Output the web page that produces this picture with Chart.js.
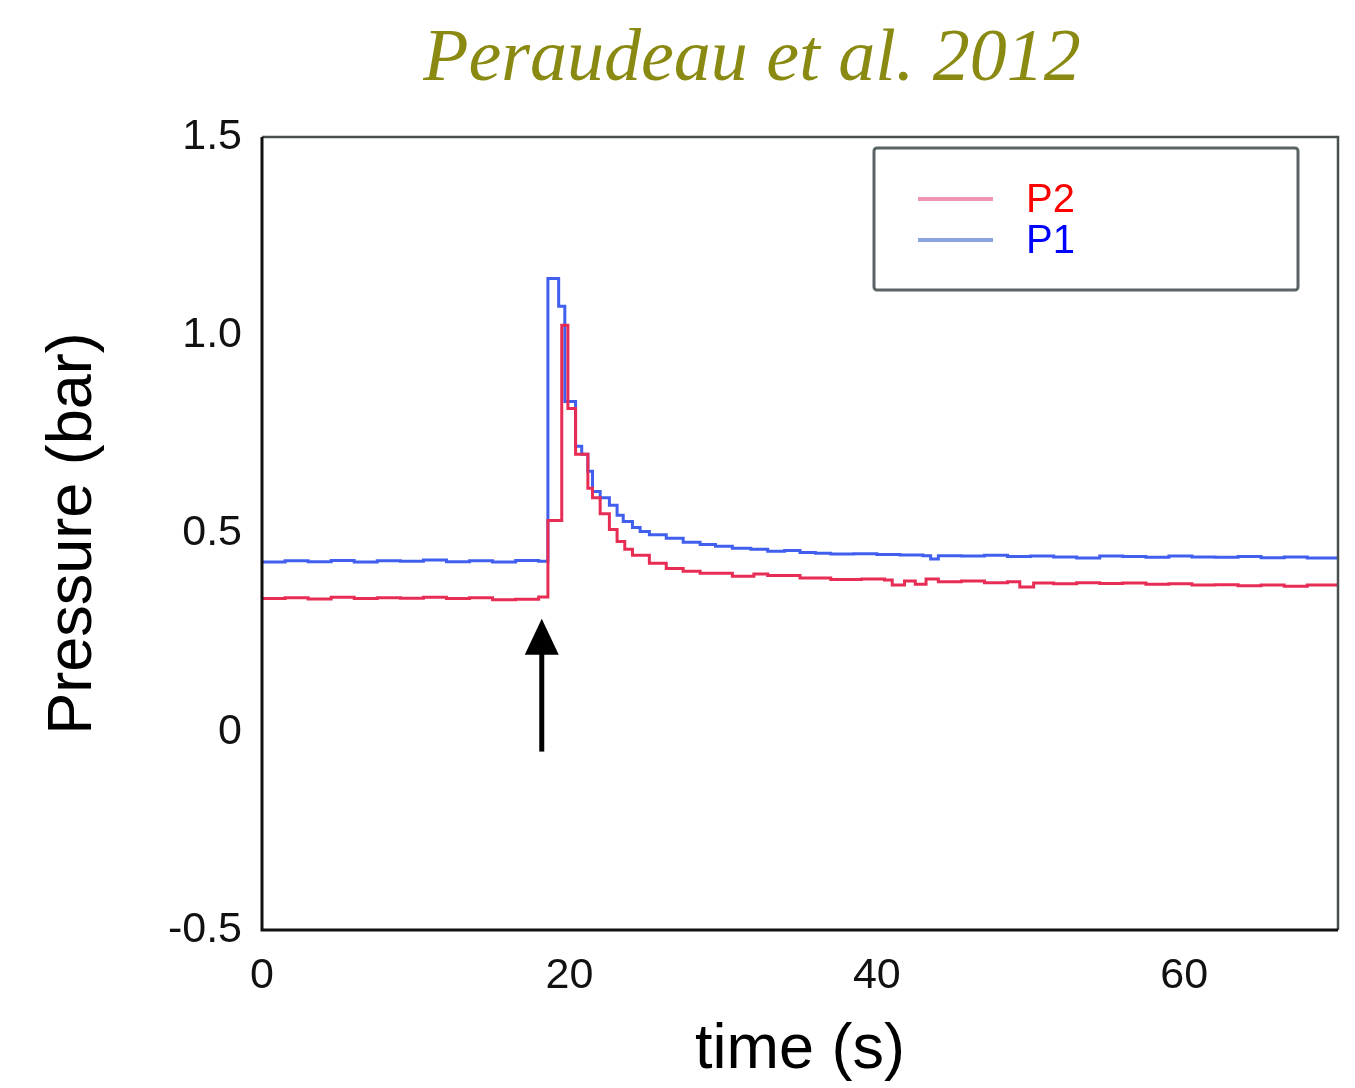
<!DOCTYPE html>
<html lang="en">
<head>
  <meta charset="UTF-8" />
  <title>Peraudeau et al. 2012</title>
  <script src="https://cdn.jsdelivr.net/npm/chart.js"></script>
  <style>
    body { margin: 0; background: #fff; }
    .wrap { width: 1355px; height: 1088px; position: relative; }
  </style>
</head>
<body>
  <div class="wrap"><canvas id="pressureChart"></canvas></div>

  <script>
    // (time in s, pressure in bar)
    const p1Time = [0, 1.5, 3, 4.5, 6, 7.5, 9, 10.5, 12, 13.5, 15, 16.5, 18, 18.6, 19.3, 19.7, 20.4, 20.8, 21.2, 21.5, 22, 22.6, 23.1, 23.5, 24.1, 24.6, 25.2, 26.3, 27.4, 28.5, 29.5, 30.6, 31.8, 32.9, 34, 35, 36, 37, 38.5, 40, 41.5, 43, 43.5, 44, 45.5, 47, 48.5, 50, 51.5, 53, 54.5, 56, 57.5, 59, 60.5, 62, 63.5, 65, 66.5, 68, 70];
    const p1Values = [0.428, 0.431, 0.429, 0.432, 0.428, 0.431, 0.430, 0.433, 0.429, 0.431, 0.428, 0.432, 0.430, 1.143, 1.073, 0.833, 0.72, 0.70, 0.657, 0.606, 0.59, 0.571, 0.546, 0.53, 0.515, 0.505, 0.497, 0.488, 0.478, 0.472, 0.468, 0.463, 0.46, 0.455, 0.457, 0.452, 0.45, 0.448, 0.449, 0.447, 0.446, 0.444, 0.436, 0.444, 0.443, 0.445, 0.442, 0.443, 0.441, 0.438, 0.443, 0.442, 0.44, 0.443, 0.441, 0.44, 0.442, 0.439, 0.441, 0.438, 0.44];

    const p2Time = [0, 1.5, 3, 4.5, 6, 7.5, 9, 10.5, 12, 13.5, 15, 16.5, 18, 18.6, 19.5, 19.9, 20.4, 21.2, 21.5, 22, 22.6, 23.1, 23.6, 24.1, 25.2, 26.3, 27.4, 28.5, 30.6, 32, 32.9, 35, 37, 39, 40.5, 41, 41.8, 42.5, 43.2, 44, 45.5, 47, 48.5, 49.3, 50.2, 51.5, 53, 54.5, 56, 57.5, 59, 60.5, 62, 63.5, 65, 66.5, 68, 70];
    const p2Values = [0.336, 0.338, 0.335, 0.339, 0.336, 0.338, 0.337, 0.339, 0.336, 0.338, 0.333, 0.334, 0.340, 0.533, 1.025, 0.815, 0.70, 0.614, 0.59, 0.55, 0.51, 0.48, 0.46, 0.445, 0.425, 0.412, 0.405, 0.40, 0.392, 0.398, 0.394, 0.388, 0.384, 0.385, 0.383, 0.37, 0.38, 0.372, 0.385, 0.378, 0.38, 0.376, 0.378, 0.365, 0.375, 0.373, 0.376, 0.374, 0.375, 0.372, 0.373, 0.37, 0.371, 0.368, 0.37, 0.367, 0.37, 0.372];

    const xTicks = [0, 20, 40, 60];
    const yTicks = [-0.5, 0, 0.5, 1.0, 1.5];
    const arrowX = 18.2;       // injection marker
    const arrowFrom = -0.05;
    const arrowTo = 0.285;

    const toPoints = (t, v) => t.map((x, i) => ({ x: x, y: v[i] }));

    // title, frame, arrow and legend box
    const extras = {
      id: 'extras',
      afterDraw(chart) {
        const ctx = chart.ctx;
        const a = chart.chartArea;
        const xs = chart.scales.x, ys = chart.scales.y;
        ctx.save();

        // title
        ctx.font = 'italic 74px "Liberation Serif", "Times New Roman", serif';
        ctx.fillStyle = '#8a8a12';
        ctx.textAlign = 'center';
        ctx.textBaseline = 'alphabetic';
        ctx.fillText('Peraudeau et al. 2012', 752, 80);

        // frame
        ctx.strokeStyle = '#4a5050';
        ctx.lineWidth = 2.5;
        ctx.beginPath();
        ctx.moveTo(a.left, a.top);
        ctx.lineTo(a.right, a.top);
        ctx.lineTo(a.right, a.bottom);
        ctx.stroke();
        ctx.strokeStyle = '#111';
        ctx.lineWidth = 3;
        ctx.beginPath();
        ctx.moveTo(a.left, a.top);
        ctx.lineTo(a.left, a.bottom);
        ctx.lineTo(a.right, a.bottom);
        ctx.stroke();

        // arrow
        const ax = xs.getPixelForValue(arrowX);
        const y0 = ys.getPixelForValue(arrowFrom);
        const y1 = ys.getPixelForValue(arrowTo);
        ctx.strokeStyle = '#000';
        ctx.fillStyle = '#000';
        ctx.lineWidth = 5;
        ctx.beginPath();
        ctx.moveTo(ax, y0);
        ctx.lineTo(ax, y1 + 30);
        ctx.stroke();
        ctx.beginPath();
        ctx.moveTo(ax, y1);
        ctx.lineTo(ax - 17, y1 + 36);
        ctx.lineTo(ax + 17, y1 + 36);
        ctx.closePath();
        ctx.fill();

        // legend
        const lx = a.left + 612, ly = a.top + 11;
        ctx.strokeStyle = '#5a6464';
        ctx.lineWidth = 3;
        ctx.beginPath();
        ctx.roundRect(lx, ly, 424, 142, 3);
        ctx.stroke();
        const items = [
          { label: 'P2', line: 'rgb(240,150,180)', text: '#ff0000', y: ly + 51 },
          { label: 'P1', line: 'rgb(140,165,225)', text: '#0000ff', y: ly + 92 }
        ];
        ctx.font = '40px "Liberation Sans", Arial, sans-serif';
        ctx.textAlign = 'left';
        ctx.textBaseline = 'middle';
        items.forEach(it => {
          ctx.strokeStyle = it.line;
          ctx.lineWidth = 4;
          ctx.beginPath();
          ctx.moveTo(lx + 44, it.y);
          ctx.lineTo(lx + 119, it.y);
          ctx.stroke();
          ctx.fillStyle = it.text;
          ctx.fillText(it.label, lx + 152, it.y + 2);
        });
        ctx.restore();
      }
    };

    new Chart(document.getElementById('pressureChart'), {
      type: 'line',
      data: {
        datasets: [
          {
            label: 'P2',
            data: toPoints(p2Time, p2Values),
            borderColor: 'rgb(232,45,85)',
            borderWidth: 3,
            stepped: true,
            pointRadius: 0,
            fill: false
          },
          {
            label: 'P1',
            data: toPoints(p1Time, p1Values),
            borderColor: 'rgb(65,95,238)',
            borderWidth: 3,
            stepped: true,
            pointRadius: 0,
            fill: false
          }
        ]
      },
      options: {
        responsive: true,
        maintainAspectRatio: false,
        animation: false,
        layout: { padding: { top: 137, right: 17, left: 0, bottom: 0 } },
        plugins: {
          legend: { display: false },
          tooltip: { enabled: false }
        },
        scales: {
          x: {
            type: 'linear',
            min: 0,
            max: 70,
            grid: { display: false, drawTicks: false },
            border: { display: false },
            afterBuildTicks: s => { s.ticks = xTicks.map(v => ({ value: v })); },
            afterFit: s => { s.height = 158; },
            ticks: {
              padding: 20,
              color: '#111',
              font: { family: '"Liberation Sans", Arial, sans-serif', size: 43 }
            },
            title: {
              display: true,
              text: 'time (s)',
              color: '#000',
              padding: { top: 0, bottom: 0 },
              font: { family: '"Liberation Sans", Arial, sans-serif', size: 63 }
            }
          },
          y: {
            min: -0.5,
            max: 1.5,
            grid: { display: false, drawTicks: false },
            border: { display: false },
            afterBuildTicks: s => { s.ticks = yTicks.map(v => ({ value: v })); },
            afterFit: s => { s.width = 262; },
            ticks: {
              padding: 20,
              color: '#111',
              font: { family: '"Liberation Sans", Arial, sans-serif', size: 43 },
              callback: v => (v === 0 ? '0' : v.toFixed(1))
            },
            title: {
              display: true,
              text: 'Pressure (bar)',
              color: '#000',
              padding: { top: 36, bottom: 0 },
              font: { family: '"Liberation Sans", Arial, sans-serif', size: 63 }
            }
          }
        }
      },
      plugins: [extras]
    });
  </script>
</body>
</html>
